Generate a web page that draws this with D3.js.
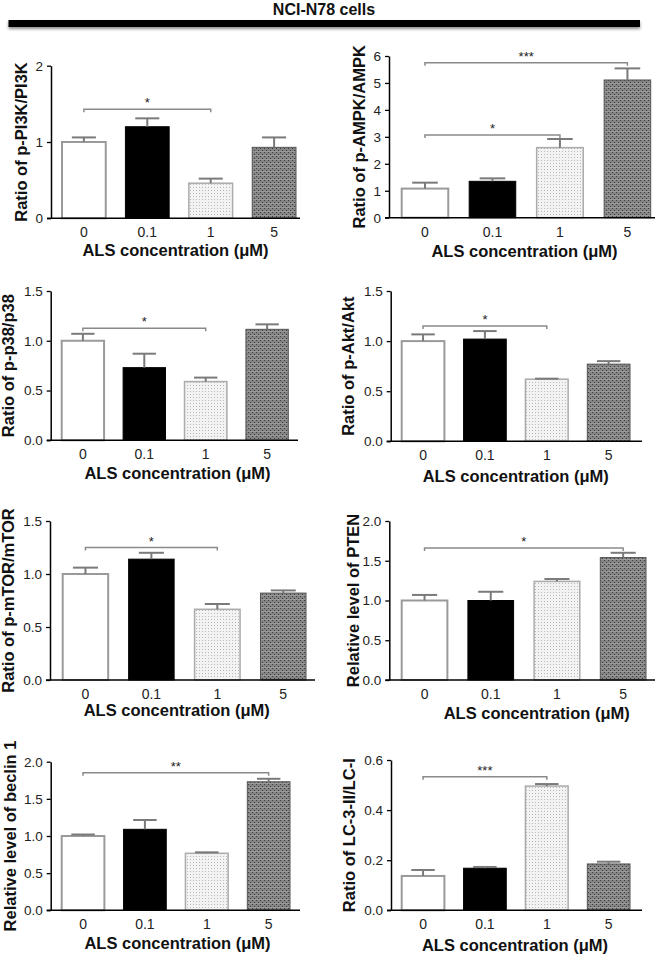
<!DOCTYPE html>
<html>
<head>
<meta charset="utf-8">
<script src="https://cdn.jsdelivr.net/npm/d3@7"></script>
<style>
  html, body { margin: 0; padding: 0; background: #fff; }
  svg { display: block; font-family: "Liberation Sans", Arial, sans-serif; }
</style>
</head>
<body>
<svg id="chart" width="663" height="956"></svg>
<script>
// ---------- DATA ----------
const figureTitle = "NCI-N78 cells";
const categories = ["0", "0.1", "1", "5"];
const xAxisTitle = "ALS concentration (\u03bcM)";

const pi3kMean = [1.0, 1.2, 0.46, 0.93];
const pi3kErr = [0.06, 0.11, 0.06, 0.13];
const pi3kTicks = [0, 1, 2];
const pi3kSig = [{from: "0", to: "1", label: "*", level: 1.43}];

const ampkMean = [1.08, 1.35, 2.6, 5.11];
const ampkErr = [0.22, 0.11, 0.32, 0.43];
const ampkTicks = [0, 1, 2, 3, 4, 5, 6];
const ampkSig = [{from: "0", to: "1", label: "*", level: 3.07}, {from: "0", to: "5", label: "***", level: 5.75}];

const p38Mean = [1.0, 0.73, 0.59, 1.115];
const p38Err = [0.07, 0.14, 0.04, 0.05];
const p38Ticks = [0, 0.5, 1.0, 1.5];
const p38Sig = [{from: "0", to: "1", label: "*", level: 1.125}];

const aktMean = [1.0, 1.02, 0.62, 0.77];
const aktErr = [0.067, 0.08, 0.005, 0.03];
const aktTicks = [0, 0.5, 1.0, 1.5];
const aktSig = [{from: "0", to: "1", label: "*", level: 1.15}];

const mtorMean = [1.0, 1.14, 0.667, 0.82];
const mtorErr = [0.06, 0.06, 0.05, 0.025];
const mtorTicks = [0, 0.5, 1.0, 1.5];
const mtorSig = [{from: "0", to: "1", label: "*", level: 1.25}];

const ptenMean = [1.0, 1.0, 1.24, 1.54];
const ptenErr = [0.07, 0.11, 0.03, 0.06];
const ptenTicks = [0, 0.5, 1.0, 1.5, 2.0];
const ptenSig = [{from: "0", to: "5", label: "*", level: 1.66}];

const beclinMean = [1.0, 1.09, 0.767, 1.73];
const beclinErr = [0.02, 0.125, 0.013, 0.04];
const beclinTicks = [0, 0.5, 1.0, 1.5, 2.0];
const beclinSig = [{from: "0", to: "5", label: "**", level: 1.85}];

const lc3Mean = [0.137, 0.168, 0.496, 0.185];
const lc3Err = [0.024, 0.005, 0.008, 0.009];
const lc3Ticks = [0, 0.2, 0.4, 0.6];
const lc3Sig = [{from: "0", to: "1", label: "***", level: 0.533}];

const panels = [
  {key: "pi3k", label: "Ratio of p-PI3K/PI3K", mean: pi3kMean, err: pi3kErr, ticks: pi3kTicks, fmt: "d", sig: pi3kSig},
  {key: "ampk", label: "Ratio of p-AMPK/AMPK", mean: ampkMean, err: ampkErr, ticks: ampkTicks, fmt: "d", sig: ampkSig},
  {key: "p38", label: "Ratio of p-p38/p38", mean: p38Mean, err: p38Err, ticks: p38Ticks, fmt: ".1f", sig: p38Sig},
  {key: "akt", label: "Ratio of p-Akt/Akt", mean: aktMean, err: aktErr, ticks: aktTicks, fmt: ".1f", sig: aktSig},
  {key: "mtor", label: "Ratio of p-mTOR/mTOR", mean: mtorMean, err: mtorErr, ticks: mtorTicks, fmt: ".1f", sig: mtorSig},
  {key: "pten", label: "Relative level of PTEN", mean: ptenMean, err: ptenErr, ticks: ptenTicks, fmt: ".1f", sig: ptenSig},
  {key: "beclin", label: "Relative level of beclin 1", mean: beclinMean, err: beclinErr, ticks: beclinTicks, fmt: ".1f", sig: beclinSig},
  {key: "lc3", label: "Ratio of LC-3-II/LC-I", mean: lc3Mean, err: lc3Err, ticks: lc3Ticks, fmt: ".1f", sig: lc3Sig}
];

// ---------- LAYOUT (pixel geometry per panel) ----------
const layout = {
  pi3k:   {ax: 51,    y0: 218.3, yTop: 65.7,  xL: 62,    xR: 296,   xEnd: 300, labX: 26.5,  titleX: 175.5, titleDy: 37.5},
  ampk:   {ax: 389,   y0: 217.7, yTop: 56,    xL: 401.7, xR: 650.7, xEnd: 655, labX: 364.5, titleX: 524.5, titleDy: 39.5},
  p38:    {ax: 50.7,  y0: 440.3, yTop: 291,   xL: 61.7,  xR: 288.3, xEnd: 298, labX: 13.5,  titleX: 177.5, titleDy: 38.5},
  akt:    {ax: 390.7, y0: 441.3, yTop: 291,   xL: 401.7, xR: 630,   xEnd: 642, labX: 353.5, titleX: 515.7, titleDy: 41},
  mtor:   {ax: 50,    y0: 680,   yTop: 521,   xL: 62.7,  xR: 306,   xEnd: 315, labX: 13.5,  titleX: 176.7, titleDy: 36},
  pten:   {ax: 389.3, y0: 680,   yTop: 521,   xL: 401.7, xR: 646,   xEnd: 655, labX: 359,   titleX: 536.7, titleDy: 39},
  beclin: {ax: 50.7,  y0: 910.3, yTop: 761.7, xL: 61.7,  xR: 290,   xEnd: 300, labX: 16,    titleX: 177.5, titleDy: 38.5},
  lc3:    {ax: 391,   y0: 910.3, yTop: 760,   xL: 401.7, xR: 630,   xEnd: 642, labX: 354.5, titleX: 515,   titleDy: 41}
};

// ---------- STYLE ----------
const barStyles = [
  {fill: "#ffffff", stroke: "#9a9a9a", sw: 2},
  {fill: "#000000", stroke: "#000000", sw: 1},
  {fill: "url(#lightDots)", stroke: "#ababab", sw: 1.5},
  {fill: "url(#darkCheck)", stroke: "#555555", sw: 1}
];

const svg = d3.select("#chart");
const defs = svg.append("defs");

// light dotted pattern
const p1 = defs.append("pattern").attr("id", "lightDots").attr("patternUnits", "userSpaceOnUse")
  .attr("width", 3).attr("height", 3);
p1.append("rect").attr("width", 3).attr("height", 3).attr("fill", "#f3f3f3");
p1.append("rect").attr("x", 1).attr("y", 1).attr("width", 1).attr("height", 1).attr("fill", "#b8b8b8");

// dark checked pattern
const p2 = defs.append("pattern").attr("id", "darkCheck").attr("patternUnits", "userSpaceOnUse")
  .attr("width", 4).attr("height", 4);
p2.append("rect").attr("width", 4).attr("height", 4).attr("fill", "#858585");
p2.append("rect").attr("x", 0).attr("y", 0).attr("width", 1).attr("height", 1).attr("fill", "#3a3a3a");
p2.append("rect").attr("x", 2).attr("y", 2).attr("width", 1).attr("height", 1).attr("fill", "#3a3a3a");
p2.append("rect").attr("x", 0).attr("y", 3).attr("width", 4).attr("height", 1).attr("fill", "#9a9a9a");

// shadow filter
const f = defs.append("filter").attr("id", "shadow").attr("x", "-5%").attr("y", "-100%").attr("width", "110%").attr("height", "400%");
f.append("feDropShadow").attr("dx", 0).attr("dy", 2).attr("stdDeviation", 1.5).attr("flood-color", "#000").attr("flood-opacity", 0.45);

// ---------- TITLE ----------
svg.append("text")
  .attr("x", 324).attr("y", 14.5)
  .attr("text-anchor", "middle")
  .attr("font-size", 16).attr("font-weight", "bold")
  .attr("fill", "#111")
  .text(figureTitle);

svg.append("rect")
  .attr("x", 8.5).attr("y", 20).attr("width", 631.5).attr("height", 7)
  .attr("fill", "#000").attr("filter", "url(#shadow)");

// ---------- PANELS ----------
panels.forEach(p => {
  const L = layout[p.key];
  const g = svg.append("g");
  const x = d3.scaleBand().domain(categories).range([L.xL, L.xR]).paddingInner(0.31).paddingOuter(0);
  const maxV = d3.max(p.ticks);
  const y = d3.scaleLinear().domain([0, maxV]).range([L.y0, L.yTop]);
  const bw = x.bandwidth();

  // bars
  g.selectAll("rect.bar").data(p.mean).join("rect")
    .attr("class", "bar")
    .attr("x", (d, i) => x(categories[i]))
    .attr("y", d => y(d))
    .attr("width", bw)
    .attr("height", d => y(0) - y(d))
    .attr("fill", (d, i) => barStyles[i].fill)
    .attr("stroke", (d, i) => barStyles[i].stroke)
    .attr("stroke-width", (d, i) => barStyles[i].sw);

  // error bars (upper only)
  const capW = bw * 0.55;
  p.mean.forEach((m, i) => {
    const cx = x(categories[i]) + bw / 2;
    const top = y(m + p.err[i]);
    g.append("line").attr("x1", cx).attr("x2", cx).attr("y1", y(m)).attr("y2", top)
      .attr("stroke", "#7a7a7a").attr("stroke-width", 2);
    g.append("line").attr("x1", cx - capW / 2).attr("x2", cx + capW / 2).attr("y1", top).attr("y2", top)
      .attr("stroke", "#7a7a7a").attr("stroke-width", 2);
  });

  // y axis
  const yAxis = d3.axisLeft(y).tickValues(p.ticks).tickFormat(d3.format(p.fmt))
    .tickSize(4).tickPadding(4).tickSizeOuter(0);
  const ya = g.append("g").attr("transform", `translate(${L.ax},0)`).call(yAxis);
  ya.select(".domain").attr("stroke", "#000").attr("stroke-width", 1.5);
  ya.selectAll(".tick line").attr("stroke", "#000").attr("stroke-width", 1.3);
  ya.selectAll(".tick text").attr("font-size", 13.5).attr("fill", "#222")
    .attr("font-family", "'Liberation Sans', Arial, sans-serif");

  // x axis baseline
  g.append("line").attr("x1", L.ax - 4).attr("x2", L.xEnd).attr("y1", L.y0).attr("y2", L.y0)
    .attr("stroke", "#000").attr("stroke-width", 1.5);

  // x tick labels
  g.selectAll("text.xt").data(categories).join("text")
    .attr("class", "xt")
    .attr("x", d => x(d) + bw / 2)
    .attr("y", L.y0 + 19)
    .attr("text-anchor", "middle")
    .attr("font-size", 14).attr("fill", "#222")
    .text(d => d);

  // x title
  g.append("text")
    .attr("x", L.titleX).attr("y", L.y0 + L.titleDy)
    .attr("text-anchor", "middle")
    .attr("font-size", 16.5).attr("font-weight", "bold").attr("fill", "#111")
    .text(xAxisTitle);

  // y title
  const yc = (L.y0 + L.yTop) / 2;
  g.append("text")
    .attr("transform", `translate(${L.labX},${yc}) rotate(-90)`)
    .attr("text-anchor", "middle")
    .attr("font-size", 16.5).attr("font-weight", "bold").attr("fill", "#111")
    .text(p.label);

  // significance brackets
  p.sig.forEach(s => {
    const x1 = x(s.from) + bw / 2;
    const x2 = x(s.to) + bw / 2;
    const yy = y(s.level);
    g.append("path")
      .attr("d", `M${x1},${yy + 3}V${yy}H${x2}V${yy + 3}`)
      .attr("fill", "none").attr("stroke", "#8a8a8a").attr("stroke-width", 1.5);
    g.append("text")
      .attr("x", (x1 + x2) / 2).attr("y", yy - 2)
      .attr("text-anchor", "middle")
      .attr("font-size", 13).attr("fill", "#222")
      .text(s.label);
  });
});
</script>
</body>
</html>
